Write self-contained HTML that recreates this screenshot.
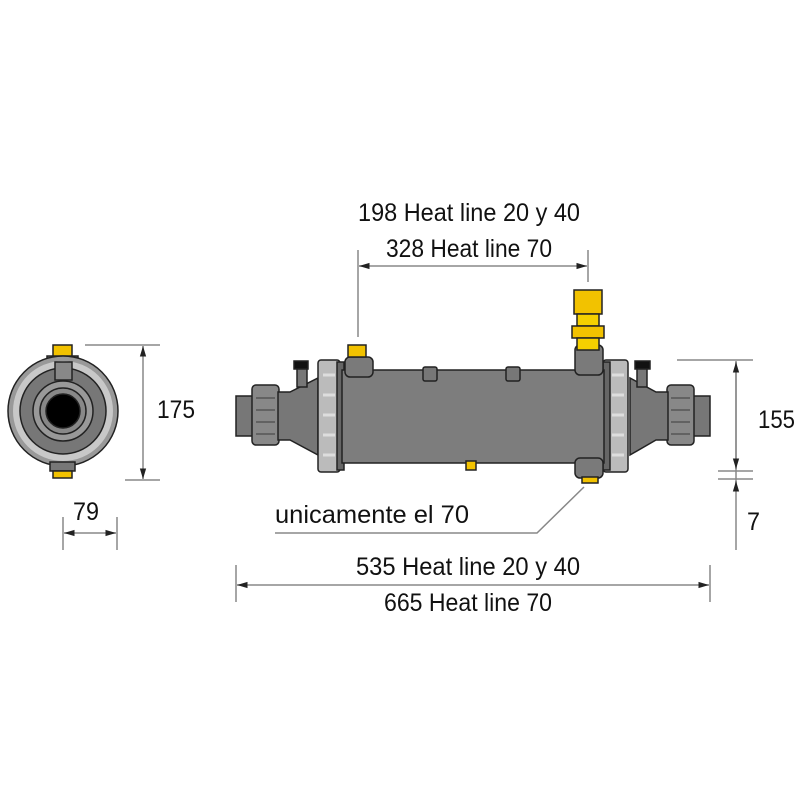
<!DOCTYPE html>
<html><head><meta charset="utf-8"><style>body{margin:0;background:#fff}svg{display:block}</style></head><body>
<svg width="800" height="800" viewBox="0 0 800 800" xmlns="http://www.w3.org/2000/svg" font-family="Liberation Sans, sans-serif" fill="#111">
<defs>
<marker id="a" viewBox="0 0 10 10" refX="10" refY="5" markerWidth="7" markerHeight="7" orient="auto-start-reverse"><path d="M0,2 L10,5 L0,8z" fill="#222"/></marker>
</defs>
<g stroke="#888" stroke-width="1.5" fill="none">
<line x1="358" y1="250" x2="358" y2="337"/>
<line x1="588" y1="250" x2="588" y2="282"/>
<line x1="359" y1="266" x2="587" y2="266" marker-start="url(#a)" marker-end="url(#a)"/>
<line x1="677" y1="360" x2="753" y2="360"/>
<line x1="736" y1="361" x2="736" y2="550"/>
<line x1="718" y1="471" x2="753" y2="471"/>
<line x1="718" y1="479" x2="753" y2="479"/>
<line x1="736" y1="362" x2="736" y2="469" marker-start="url(#a)" marker-end="url(#a)"/>
<line x1="736" y1="481" x2="736" y2="490" marker-start="url(#a)"/>
<line x1="236" y1="565" x2="236" y2="602"/>
<line x1="710" y1="565" x2="710" y2="602"/>
<line x1="237" y1="585" x2="709" y2="585" marker-start="url(#a)" marker-end="url(#a)"/>
<polyline points="275,533 537,533 584,487"/>
<line x1="85" y1="345" x2="160" y2="345"/>
<line x1="125" y1="480" x2="160" y2="480"/>
<line x1="143" y1="346" x2="143" y2="479" marker-start="url(#a)" marker-end="url(#a)"/>
<line x1="63" y1="517" x2="63" y2="550"/>
<line x1="117" y1="517" x2="117" y2="550"/>
<line x1="64" y1="533" x2="116" y2="533" marker-start="url(#a)" marker-end="url(#a)"/>
</g>
<g font-size="25">
<text x="358" y="221" textLength="222" lengthAdjust="spacingAndGlyphs">198 Heat line 20  y 40</text>
<text x="386" y="257" textLength="166" lengthAdjust="spacingAndGlyphs">328 Heat line 70</text>
<text x="356" y="575" textLength="224" lengthAdjust="spacingAndGlyphs">535 Heat line 20  y 40</text>
<text x="384" y="611" textLength="168" lengthAdjust="spacingAndGlyphs">665 Heat line 70</text>
<text x="275" y="523" textLength="194" lengthAdjust="spacingAndGlyphs">unicamente el 70</text>
<text x="758" y="428" textLength="37" lengthAdjust="spacingAndGlyphs">155</text>
<text x="747" y="530" textLength="13" lengthAdjust="spacingAndGlyphs">7</text>
<text x="157" y="418" textLength="38" lengthAdjust="spacingAndGlyphs">175</text>
<text x="73" y="520" textLength="26" lengthAdjust="spacingAndGlyphs">79</text>
</g>
<g stroke="#222" stroke-width="1.5">
<rect x="53" y="345" width="19" height="13" fill="#f2c200"/>
<rect x="47" y="356" width="31" height="10" fill="#777"/>
<circle cx="63" cy="411" r="55" fill="#999"/>
<circle cx="63" cy="411" r="50" fill="#c8c8c8" stroke="none"/>
<circle cx="63" cy="411" r="43" fill="#777"/>
<rect x="55" y="362" width="17" height="18" fill="#888"/>
<circle cx="63" cy="411" r="30" fill="#999"/>
<circle cx="63" cy="411" r="23" fill="#888"/>
<circle cx="63" cy="411" r="17" fill="#000"/>
<rect x="50" y="462" width="25" height="9" fill="#777"/>
<rect x="53" y="471" width="19" height="7" fill="#f2c200"/>
</g>
<g stroke="#222" stroke-width="1.5">
<rect x="236" y="396" width="17" height="40" fill="#777"/>
<rect x="693" y="396" width="17" height="40" fill="#777"/>
<rect x="252" y="385" width="27" height="60" rx="4" fill="#888"/>
<rect x="667" y="385" width="27" height="60" rx="4" fill="#888"/>
<path d="M278,392 L290,392 L318,378 L318,455 L290,440 L278,440z" fill="#777"/>
<path d="M668,392 L656,392 L630,378 L630,455 L656,440 L668,440z" fill="#777"/>
<rect x="297" y="365" width="10" height="22" fill="#777"/>
<rect x="294" y="361" width="14" height="8" fill="#111"/>
<rect x="637" y="365" width="10" height="22" fill="#777"/>
<rect x="635" y="361" width="15" height="8" fill="#111"/>
<rect x="318" y="360" width="22" height="112" rx="3" fill="#bbb"/>
<rect x="603" y="360" width="25" height="112" rx="3" fill="#bbb"/>
<rect x="337" y="362" width="7" height="108" fill="#666"/>
<rect x="603" y="362" width="7" height="108" fill="#666"/>
<rect x="342" y="370" width="262" height="93" fill="#7d7d7d"/>
<rect x="423" y="367" width="14" height="14" rx="2" fill="#777"/>
<rect x="506" y="367" width="14" height="14" rx="2" fill="#777"/>
<rect x="345" y="357" width="28" height="20" rx="5" fill="#7a7a7a"/>
<rect x="348" y="345" width="18" height="12" fill="#f2c200"/>
<rect x="575" y="345" width="28" height="30" rx="5" fill="#7a7a7a"/>
<rect x="575" y="458" width="28" height="20" rx="5" fill="#7a7a7a"/>
<rect x="582" y="477" width="16" height="6" fill="#f2c200"/>
<rect x="466" y="461" width="10" height="9" fill="#f2c200"/>
<rect x="574" y="290" width="28" height="24" fill="#f2c200"/>
<rect x="577" y="314" width="22" height="12" fill="#f5d000"/>
<rect x="572" y="326" width="32" height="12" fill="#f2c200"/>
<rect x="577" y="338" width="22" height="12" fill="#f5d000"/>
</g>
<g stroke="#ddd" stroke-width="3">
<line x1="323" y1="375" x2="335" y2="375"/><line x1="323" y1="395" x2="335" y2="395"/><line x1="323" y1="415" x2="335" y2="415"/><line x1="323" y1="435" x2="335" y2="435"/><line x1="323" y1="455" x2="335" y2="455"/>
<line x1="612" y1="375" x2="624" y2="375"/><line x1="612" y1="395" x2="624" y2="395"/><line x1="612" y1="415" x2="624" y2="415"/><line x1="612" y1="435" x2="624" y2="435"/><line x1="612" y1="455" x2="624" y2="455"/>
</g>
<g stroke="#555" stroke-width="1.5">
<line x1="256" y1="398" x2="275" y2="398"/><line x1="256" y1="410" x2="275" y2="410"/><line x1="256" y1="422" x2="275" y2="422"/><line x1="256" y1="434" x2="275" y2="434"/>
<line x1="671" y1="398" x2="690" y2="398"/><line x1="671" y1="410" x2="690" y2="410"/><line x1="671" y1="422" x2="690" y2="422"/><line x1="671" y1="434" x2="690" y2="434"/>
</g>
</svg>
</body></html>
